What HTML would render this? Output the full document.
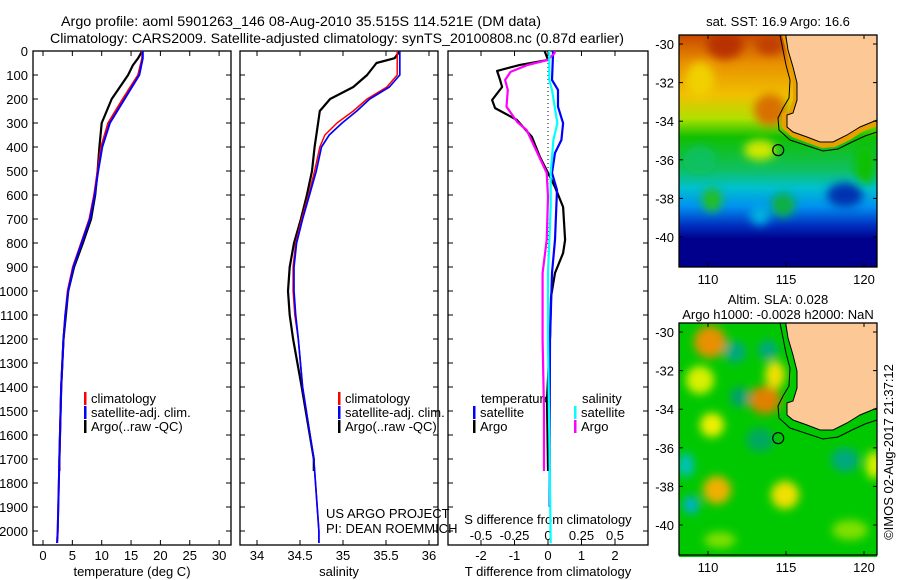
<!DOCTYPE html>
<html><head><meta charset="utf-8"><style>
body{margin:0;background:#fff}
svg{display:block;font-family:"Liberation Sans",sans-serif}
text{font-size:13px;fill:#000}
</style></head><body>
<svg id="chart" width="900" height="580" viewBox="0 0 900 580" xmlns="http://www.w3.org/2000/svg">
<defs>
<filter id="bl" x="-50%" y="-50%" width="200%" height="200%"><feGaussianBlur stdDeviation="4.5"/></filter>
<clipPath id="cm1"><rect x="679" y="35" width="198" height="232"/></clipPath>
<clipPath id="cm2"><rect x="679" y="323" width="198" height="234"/></clipPath>
<linearGradient id="sstg" x1="0" y1="35" x2="0" y2="267" gradientUnits="userSpaceOnUse">
<stop offset="0" stop-color="#c84800"/><stop offset="0.12" stop-color="#e89000"/><stop offset="0.26" stop-color="#f0c000"/><stop offset="0.36" stop-color="#b0e000"/><stop offset="0.44" stop-color="#10c000"/><stop offset="0.58" stop-color="#10c060"/><stop offset="0.66" stop-color="#00c0d0"/><stop offset="0.74" stop-color="#0090f0"/><stop offset="0.82" stop-color="#0030c0"/><stop offset="0.88" stop-color="#00008c"/><stop offset="1" stop-color="#00008c"/>
</linearGradient>
</defs>
<text x="61" y="26" textLength="480" lengthAdjust="spacingAndGlyphs" style="font-size:14px">Argo profile: aoml 5901263_146 08-Aug-2010 35.515S 114.521E (DM data)</text>
<text x="50" y="43" textLength="574" lengthAdjust="spacingAndGlyphs" style="font-size:14px">Climatology: CARS2009. Satellite-adjusted climatology: synTS_20100808.nc (0.87d earlier)</text>
<g id="axes"></g>
<g id="series"></g>
<g id="maps">
 <g clip-path="url(#cm1)">
  <rect x="679" y="35" width="198" height="232" fill="url(#sstg)"/>
  <g filter="url(#bl)">
   <ellipse cx="725" cy="45" rx="18" ry="14" fill="#b83000"/>
   <ellipse cx="770" cy="45" rx="14" ry="10" fill="#c04000"/>
   <ellipse cx="770" cy="110" rx="16" ry="16" fill="#d87000"/>
   <ellipse cx="700" cy="80" rx="14" ry="18" fill="#f0d000"/>
   <ellipse cx="712" cy="200" rx="10" ry="12" fill="#20c020"/>
   <ellipse cx="783" cy="205" rx="12" ry="12" fill="#10b040"/>
   <ellipse cx="760" cy="150" rx="16" ry="10" fill="#d0e800"/>
   <ellipse cx="845" cy="195" rx="18" ry="12" fill="#0030b0"/>
   <ellipse cx="760" cy="215" rx="10" ry="10" fill="#00b0e0"/>
   <ellipse cx="865" cy="165" rx="10" ry="20" fill="#10c000"/>
   <ellipse cx="700" cy="160" rx="16" ry="14" fill="#10c060"/>
  </g>
  <path d="M782,35 L786,50 L790,67 L793,83 L793,100 L789,112 L782,113 L782,128 L792,137 L808,143 L822,148 L835,147 L850,140 L862,132 L877,126 L877,120 L860,127 L847,135 L833,142 L820,142 L807,137 L793,132 L787,127 L787,115 L793,113 L797,100 L797,83 L793,67 L788,50 L785.7,35 Z" fill="#e8a000"/>
 </g>
 <g clip-path="url(#cm2)">
  <rect x="679" y="323" width="198" height="234" fill="#00c800"/>
  <g filter="url(#bl)">
   <ellipse cx="710" cy="342" rx="16" ry="16" fill="#e89000"/>
   <ellipse cx="700" cy="380" rx="14" ry="14" fill="#d8f000"/>
   <ellipse cx="765" cy="400" rx="16" ry="14" fill="#e08000"/>
   <ellipse cx="775" cy="375" rx="10" ry="14" fill="#f0e000"/>
   <ellipse cx="712" cy="425" rx="12" ry="12" fill="#f0f000"/>
   <ellipse cx="717" cy="490" rx="14" ry="14" fill="#f0b000"/>
   <ellipse cx="785" cy="495" rx="14" ry="14" fill="#f0e000"/>
   <ellipse cx="686" cy="465" rx="8" ry="12" fill="#00c0c0"/>
   <ellipse cx="691" cy="505" rx="8" ry="9" fill="#00b0d0"/>
   <ellipse cx="735" cy="352" rx="11" ry="11" fill="#00a880"/>
   <ellipse cx="768" cy="350" rx="10" ry="10" fill="#00a880"/>
   <ellipse cx="740" cy="397" rx="10" ry="10" fill="#00a070"/>
   <ellipse cx="845" cy="460" rx="14" ry="12" fill="#00a880"/>
   <ellipse cx="874" cy="465" rx="8" ry="14" fill="#e0f000"/>
   <ellipse cx="760" cy="440" rx="14" ry="12" fill="#00a860"/>
   <ellipse cx="850" cy="530" rx="18" ry="10" fill="#80e000"/>
   <ellipse cx="720" cy="540" rx="16" ry="8" fill="#80e000"/>
  </g>
 </g>
 <g id="landgrp"></g>
</g>
<g id="maptext">
 <text x="778" y="26" text-anchor="middle">sat. SST: 16.9 Argo: 16.6</text>
 <text x="778" y="304" text-anchor="middle">Altim. SLA: 0.028</text>
 <text x="778" y="319" text-anchor="middle">Argo h1000: -0.0028 h2000: NaN</text>
 <text transform="translate(893,452) rotate(-90)" text-anchor="middle">©IMOS 02-Aug-2017 21:37:12</text>
</g>
</svg>
<script>
// ---- data ----
const tDepth   = [0,30,100,200,300,400,500,600,700,800,900,1000,1100,1200,1400,1700,2000,2050];
const tClim    = [16.9,16.9,16.2,13.6,11.1,9.9,9.3,8.7,7.9,6.5,5.1,4.2,3.8,3.5,3.1,2.8,2.5,2.4];
const tSat     = [17.0,17.0,16.4,13.9,11.4,10.1,9.4,8.8,8.0,6.6,5.2,4.3,3.8,3.5,3.1,2.8,2.5,2.4];
const tArgoD   = [0,30,60,100,200,300,400,500,600,700,800,900,1000,1100,1200,1400,1700,1750];
const tArgo    = [16.9,16.2,15.3,14.5,11.7,10.0,9.6,9.3,8.9,8.2,6.8,5.3,4.3,3.9,3.5,3.1,2.8,2.8];
const sDepth   = [0,100,150,200,250,300,350,400,500,600,700,800,900,1000,1100,1200,1400,1700,2000,2050];
const sClim    = [35.63,35.63,35.51,35.28,35.12,34.93,34.79,34.73,34.67,34.60,34.52,34.45,34.42,34.42,34.44,34.48,34.53,34.66,34.72,34.72];
const sSat     = [35.66,35.66,35.54,35.31,35.16,34.99,34.84,34.75,34.69,34.61,34.53,34.46,34.43,34.43,34.45,34.48,34.53,34.66,34.72,34.72];
const sArgoD   = [0,30,50,100,150,200,250,300,400,500,600,700,800,900,1000,1100,1200,1400,1700,1750];
const sArgo    = [35.66,35.60,35.39,35.28,35.12,34.85,34.73,34.71,34.67,34.64,34.58,34.51,34.43,34.38,34.36,34.38,34.42,34.52,34.66,34.66];
const dTArgoD  = [0,37,58,83,121,150,204,238,287,358,442,508,567,650,787,842,925,1025,1192,1450,1750];
const dTArgo   = [-0.1,0,-0.84,-1.52,-1.43,-1.37,-1.67,-1.58,-0.93,-0.48,-0.24,0,0.21,0.45,0.51,0.45,0.21,0.09,0.06,-0.03,0];
const dTSatD   = [0,17,121,162,232,301,371,425,508,579,787,925,1204,1500,1900];
const dTSat    = [0.15,0.15,0.12,0.3,0.3,0.45,0.4,0.21,0.12,0.27,0.21,0.12,0.06,0.05,0.05];
const dSArgoD  = [0,8,37,58,87,121,162,232,296,329,400,508,608,787,925,1204,1500,1750];
const dSArgo   = [0.05,0.05,0,-0.15,-0.28,-0.32,-0.3,-0.31,-0.23,-0.16,-0.1,-0.01,0,-0.01,-0.04,-0.04,-0.03,-0.03];
const dSSatD   = [0,8,121,162,232,301,371,508,650,925,1204,1600,2050];
const dSSat    = [0.01,0.01,0.01,0.03,0.05,0.07,0.04,0.02,0.02,0,0,0.01,0.02];
const depthTicks = [0,100,200,300,400,500,600,700,800,900,1000,1100,1200,1300,1400,1500,1600,1700,1800,1900,2000];
const tTicks   = [0,5,10,15,20,25,30];
const sTicks   = [34,34.5,35,35.5,36];
const sTickLbl = ["34","34.5","35","35.5","36"];
const dTTicks  = [-2,-1,0,1,2];
const dSTicks  = [-0.5,-0.25,0,0.25,0.5];
const dSTickLbl= ["-0.5","-0.25","0","0.25","0.5"];
const latTicks = [-30,-32,-34,-36,-38,-40];
const lonTicks = [110,115,120];
// ---- axis functions ----
const Y  = d => 51 + d*0.24;
const TX = t => 43 + t*5.87;
const SX = s => 257 + (s-34)*86;
const DT = v => 548 + v*33.5;
const DS = v => 548 + v*134;
const LON= l => 708 + (l-110)*15.6;
const LAT= (l,off) => 44 + (-l-30)*19.3 + off;
const NS="http://www.w3.org/2000/svg";
function mk(tag,attrs,parent,txt){const e=document.createElementNS(NS,tag);for(const k in attrs)e.setAttribute(k,attrs[k]);if(txt!==undefined)e.textContent=txt;parent.appendChild(e);return e;}
const ax=document.getElementById('axes'), se=document.getElementById('series');
const panels=[[33,231],[240,438],[448,648]];
const pnames=['temperature-panel','salinity-panel','difference-panel'];
panels.forEach((p,i)=>{
  const r=mk('rect',{x:p[0],y:51,width:p[1]-p[0],height:494,fill:'none',stroke:'#000','stroke-width':1.3},ax);
  
  
  depthTicks.forEach(d=>{
    mk('line',{x1:p[0],x2:p[0]+5,y1:Y(d),y2:Y(d),stroke:'#000'},ax);
    mk('line',{x1:p[1],x2:p[1]-5,y1:Y(d),y2:Y(d),stroke:'#000'},ax);
  });
});
depthTicks.forEach(d=>{
  const t=mk('text',{x:28,y:Y(d)+5,'text-anchor':'end'},ax,String(d));
  
  
});
function xticks(vals,lbls,f,ylab){vals.forEach((v,i)=>{
  mk('line',{x1:f(v),x2:f(v),y1:51,y2:56,stroke:'#000'},ax);
  mk('line',{x1:f(v),x2:f(v),y1:545,y2:540,stroke:'#000'},ax);
  const t=mk('text',{x:f(v),y:ylab,'text-anchor':'middle'},ax,lbls[i]);
  
  
});}
xticks(tTicks,tTicks.map(String),TX,560);
xticks(sTicks,sTickLbl,SX,560);
xticks(dTTicks,dTTicks.map(String),DT,560);
dSTicks.forEach((v,i)=>{
  const t=mk('text',{x:DS(v),y:540,'text-anchor':'middle'},ax,dSTickLbl[i]);
  
  
});
[['temperature (deg C)',132,'x-axis-title-temperature'],['salinity',339,'x-axis-title-salinity'],['T difference from climatology',548,'x-axis-title-t-diff']].forEach(a=>{
  const t=mk('text',{x:a[1],y:576,'text-anchor':'middle'},ax,a[0]);
  
  
});
const sdt=mk('text',{x:548,y:524,'text-anchor':'middle'},ax,'S difference from climatology');


mk('line',{x1:DT(0),x2:DT(0),y1:Y(0),y2:Y(1000),stroke:'#000','stroke-dasharray':'1,3'},ax);
function line(depths,vals,f,color,name,w){
  const pts=depths.map((d,i)=>f(vals[i]).toFixed(1)+','+Y(d).toFixed(1)).join(' ');
  const pl=mk('polyline',{points:pts,fill:'none',stroke:color,'stroke-width':w||2,'stroke-linejoin':'round'},se);
  
  
}
line(tArgoD,tArgo,TX,'#000','temp-argo-line',2.2);
line(tDepth,tClim,TX,'#f00','temp-climatology-line');
line(tDepth,tSat,TX,'#00f','temp-satellite-line');
line(sArgoD,sArgo,SX,'#000','sal-argo-line',2.2);
line(sDepth,sClim,SX,'#f00','sal-climatology-line',1.5);
line(sDepth,sSat,SX,'#00f','sal-satellite-line',1.7);
line(dTArgoD,dTArgo,DT,'#000','tdiff-argo-line',2.2);
line(dTSatD,dTSat,DT,'#00f','tdiff-satellite-line',2.2);
line(dSArgoD,dSArgo,DS,'#f0f','sdiff-argo-line',2.2);
line(dSSatD,dSSat,DS,'#0ff','sdiff-satellite-line',2.2);
function leg(x,y,c,txt,name){
  mk('rect',{x:x,y:y-11,width:2.5,height:13,fill:c},ax);
  const t=mk('text',{x:x+7,y:y},ax,txt);
  
  
}
[[84,'temp'],[338,'sal']].forEach(l=>{
  leg(l[0],403,'#f00','climatology',l[1]+'-legend-climatology');
  leg(l[0],417,'#00f','satellite-adj. clim.',l[1]+'-legend-satellite');
  leg(l[0],431,'#000','Argo(..raw -QC)',l[1]+'-legend-argo');
});
const lt=mk('text',{x:481,y:403},ax,'temperature');
const ls=mk('text',{x:582,y:403},ax,'salinity');
leg(473,417,'#00f','satellite','diff-legend-t-satellite');
leg(473,431,'#000','Argo','diff-legend-t-argo');
leg(574,417,'#0ff','satellite','diff-legend-s-satellite');
leg(574,431,'#f0f','Argo','diff-legend-s-argo');
const c1=mk('text',{x:326,y:518},ax,'US ARGO PROJECT');
const c2=mk('text',{x:326,y:533},ax,'PI: DEAN ROEMMICH');
const lg=document.getElementById('landgrp');
const landPts="785.7,35 788,50 793,67 797,83 797,100 793,113 787,115 787,127 793,132 807,137 820,142 833,142 847,135 860,127 877,120 877,35";
const shelfPts="780,35 783,50 786,65 790,80 789,98 783,108 778,118 779,130 790,140 808,146 823,151 838,149 852,142 865,136 877,132";
[[0,'sst'],[288,'sla']].forEach(m=>{
  const g=mk('g',{transform:'translate(0,'+m[0]+')'},lg);
  const land=mk('polygon',{points:landPts,fill:'#fcc896',stroke:'#000','stroke-width':1},g);
  
  
  mk('polyline',{points:shelfPts,fill:'none',stroke:'#000','stroke-width':1},g);
  const mkr=mk('circle',{cx:LON(114.5),cy:LAT(-35.5,0),r:5.5,fill:'none',stroke:'#000','stroke-width':1.2},g);
  
  
  const fr=mk('rect',{x:679,y:35,width:198,height:232,fill:'none',stroke:'#000','stroke-width':1.3},g);
  
  
  latTicks.forEach(l=>{
    const y=LAT(l,0);
    mk('line',{x1:679,x2:683,y1:y,y2:y,stroke:'#000'},g);
    mk('line',{x1:877,x2:873,y1:y,y2:y,stroke:'#000'},g);
    const t=mk('text',{x:674,y:y+5,'text-anchor':'end'},g,String(l));
    
    
  });
  lonTicks.forEach(l=>{
    const x=LON(l);
    mk('line',{x1:x,x2:x,y1:35,y2:39,stroke:'#000'},g);
    mk('line',{x1:x,x2:x,y1:267,y2:263,stroke:'#000'},g);
    const t=mk('text',{x:x,y:284,'text-anchor':'middle'},g,String(l));
    
    
  });
});
</script>
</body></html>
